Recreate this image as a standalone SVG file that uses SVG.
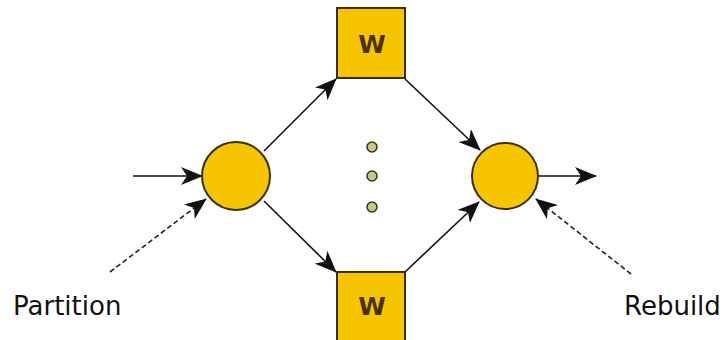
<svg xmlns="http://www.w3.org/2000/svg" width="728" height="340" viewBox="0 0 728 340">
<style>
.node{fill:#f7c500;stroke:#3d2e00;stroke-width:2}
.dot{fill:#c9c68a;stroke:#3d3a10;stroke-width:1.6}
.edge{stroke:#111;stroke-width:1.6;fill:none}
.dash{stroke:#222;stroke-width:1.6;fill:none;stroke-dasharray:5 3}
.w{font-family:"DejaVu Sans",sans-serif;font-size:25px;font-weight:bold;fill:#4a3000;text-anchor:middle}
.lbl{font-family:"DejaVu Sans",sans-serif;font-size:26px;fill:#111}
</style>
<defs>
<marker id="ah" viewBox="0 0 22 18" refX="21" refY="9" markerWidth="22" markerHeight="18" markerUnits="userSpaceOnUse" orient="auto">
<path d="M0,0 L22,9 L0,18 L6,9 Z" fill="#111"/>
</marker>
</defs>
<rect width="728" height="340" fill="#fff"/>
<g id="connectors">
<line class="edge" x1="133" y1="176" x2="202" y2="176" marker-end="url(#ah)"/>
<line class="dash" x1="110" y1="272" x2="206" y2="199" marker-end="url(#ah)"/>
<line class="edge" x1="264" y1="151" x2="336" y2="79" marker-end="url(#ah)"/>
<line class="edge" x1="264" y1="201" x2="336" y2="272" marker-end="url(#ah)"/>
<line class="edge" x1="405" y1="79" x2="480" y2="150" marker-end="url(#ah)"/>
<line class="edge" x1="405" y1="272" x2="479" y2="202" marker-end="url(#ah)"/>
<line class="edge" x1="538" y1="176" x2="596" y2="176" marker-end="url(#ah)"/>
<line class="dash" x1="631" y1="274" x2="536" y2="199" marker-end="url(#ah)"/>
</g>
<g id="partition-node"><circle class="node" cx="236" cy="176" r="34"/></g>
<g id="rebuild-node"><circle class="node" cx="505" cy="176" r="33"/></g>
<g id="worker-top"><rect class="node" x="337" y="8" width="68" height="70"/><text class="w" x="372" y="53">W</text></g>
<g id="worker-bottom"><rect class="node" x="337" y="272" width="68" height="72"/><text class="w" x="372" y="315">W</text></g>
<g id="ellipsis">
<circle class="dot" cx="372" cy="147" r="5"/>
<circle class="dot" cx="372" cy="176" r="5"/>
<circle class="dot" cx="372" cy="207" r="5"/>
</g>
<text class="lbl" x="13" y="315">Partition</text>
<text class="lbl" x="624" y="315">Rebuild</text>
</svg>
